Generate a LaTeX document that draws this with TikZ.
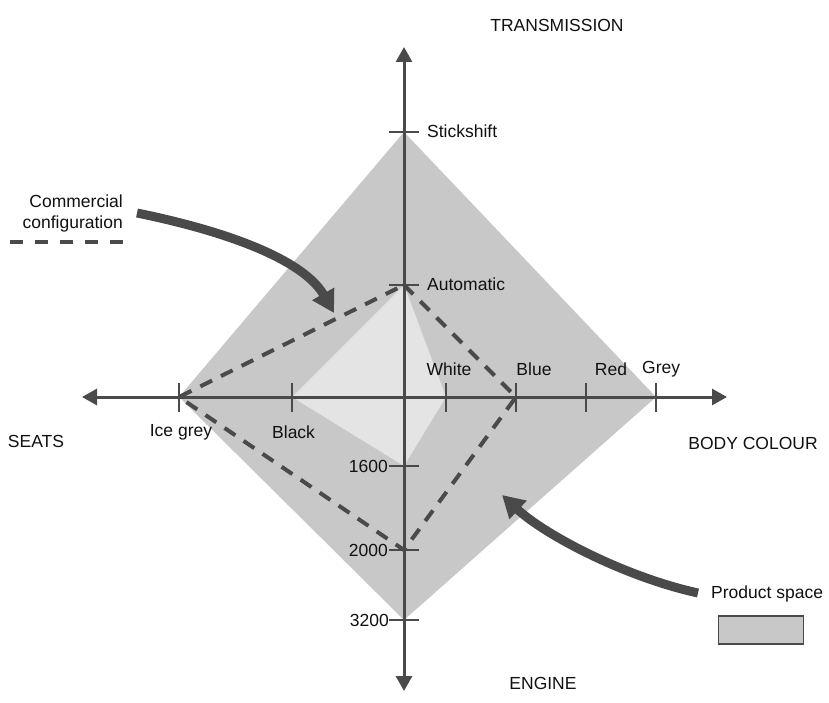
\documentclass[tikz,border=0pt]{standalone}
\usepackage{fontspec}
\setmainfont{Liberation Sans}
\usetikzlibrary{arrows.meta}
\definecolor{axisgray}{HTML}{4A4A4A}
\definecolor{prodgray}{HTML}{C8C8C8}
\definecolor{innergray}{HTML}{E4E4E4}
\definecolor{txt}{HTML}{111111}
\begin{document}
\begin{tikzpicture}[x=1pt,y=-1pt,
  lbl/.style={inner sep=0pt, font=\fontsize{17.5}{21}\selectfont, text=txt},
  axisline/.style={draw=axisgray, line width=3pt, {Triangle[length=15pt,width=16pt]}-{Triangle[length=15pt,width=16pt]}},
  tickmark/.style={draw=axisgray, line width=1.8pt},
  conf/.style={draw=axisgray, line width=4pt, dash pattern=on 13pt off 10pt},
  bigarrow/.style={draw=axisgray, line width=9pt, -{Triangle[length=22pt,width=24pt]}}]
\useasboundingbox (0,0) rectangle (829,703);
\fill[white] (0,0) rectangle (829,703);
% key points
\coordinate (O) at (404,397);
\coordinate (stick) at (404,132);
\coordinate (auto) at (404,285);
\coordinate (c1600) at (404,466);
\coordinate (c2000) at (404,550);
\coordinate (c3200) at (404,620);
\coordinate (ice) at (179,397);
\coordinate (black) at (292,397);
\coordinate (white) at (446,397);
\coordinate (blue) at (516,397);
\coordinate (red) at (586,397);
\coordinate (grey) at (656,397);
\coordinate (top) at (404,47);
\coordinate (bottom) at (404,691);
\coordinate (left) at (82,397);
\coordinate (right) at (727,397);
% product space
\fill[prodgray] (stick) -- (grey) -- (c3200) -- (ice) -- cycle;
\fill[innergray] (auto) -- (white) -- (c1600) -- (black) -- cycle;
% axes
\draw[axisline] (bottom) -- (top);
\draw[axisline] (left) -- (right);
% ticks
\foreach \p in {stick,auto,c1600,c2000,c3200}
  \draw[tickmark] ([xshift=-15pt]\p) -- ([xshift=15pt]\p);
\foreach \p in {ice,black,white,blue,red,grey}
  \draw[tickmark] ([yshift=-15pt]\p) -- ([yshift=14pt]\p);
% commercial configuration
\draw[conf] (auto) -- (blue) -- (c2000) -- (ice) -- cycle;
% labels on axes
\node[lbl, anchor=west] (lstick) at (427,131) {Stickshift};
\node[lbl, anchor=west] (lauto) at (427,284) {Automatic};
\node[lbl] (lwhite) at (449,369) {White};
\node[lbl] (lblue) at (534,369) {Blue};
\node[lbl] (lred) at (611,369) {Red};
\node[lbl, anchor=west] (lgrey) at (642,369) {Grey};
\node[lbl] (lice) at (181,432) {Ice grey};
\node[lbl, anchor=west] (lblack) at (272,432) {Black};
\node[lbl, anchor=east] (l1600) at (388,466) {1600};
\node[lbl, anchor=east] (l2000) at (388,550) {2000};
\node[lbl, anchor=east] (l3200) at (389,620) {3200};
% axis titles
\node[lbl] (ttrans) at (557,25) {TRANSMISSION};
\node[lbl] (tseats) at (36,441) {SEATS};
\node[lbl] (tbody) at (753,443) {BODY COLOUR};
\node[lbl] (tengine) at (543,683) {ENGINE};
% legends
\node[lbl, anchor=east, align=right] (lcomm) at (123,213) {Commercial\\configuration};
\coordinate (dl1) at (10,242);
\coordinate (dl2) at (123,242);
\draw[draw=axisgray, line width=4.5pt, dash pattern=on 13pt off 12pt] (dl1) -- (dl2);
\node[lbl, anchor=west] (lprod) at (711,594) {Product space};
\node[draw=axisgray, fill=prodgray, line width=1.5pt, minimum width=85pt, minimum height=28pt, inner sep=0pt] (prodbox) at (761,630) {};
% big curved arrows
\coordinate (a1s) at (137,213);
\coordinate (a1e) at (334,313);
\draw[bigarrow] (a1s) .. controls (235,233) and (305,262) .. (a1e);
\coordinate (a2s) at (698,593);
\coordinate (a2e) at (502,495);
\draw[bigarrow] (a2s) .. controls (625,577) and (545,535) .. (a2e);
\end{tikzpicture}
\end{document}
